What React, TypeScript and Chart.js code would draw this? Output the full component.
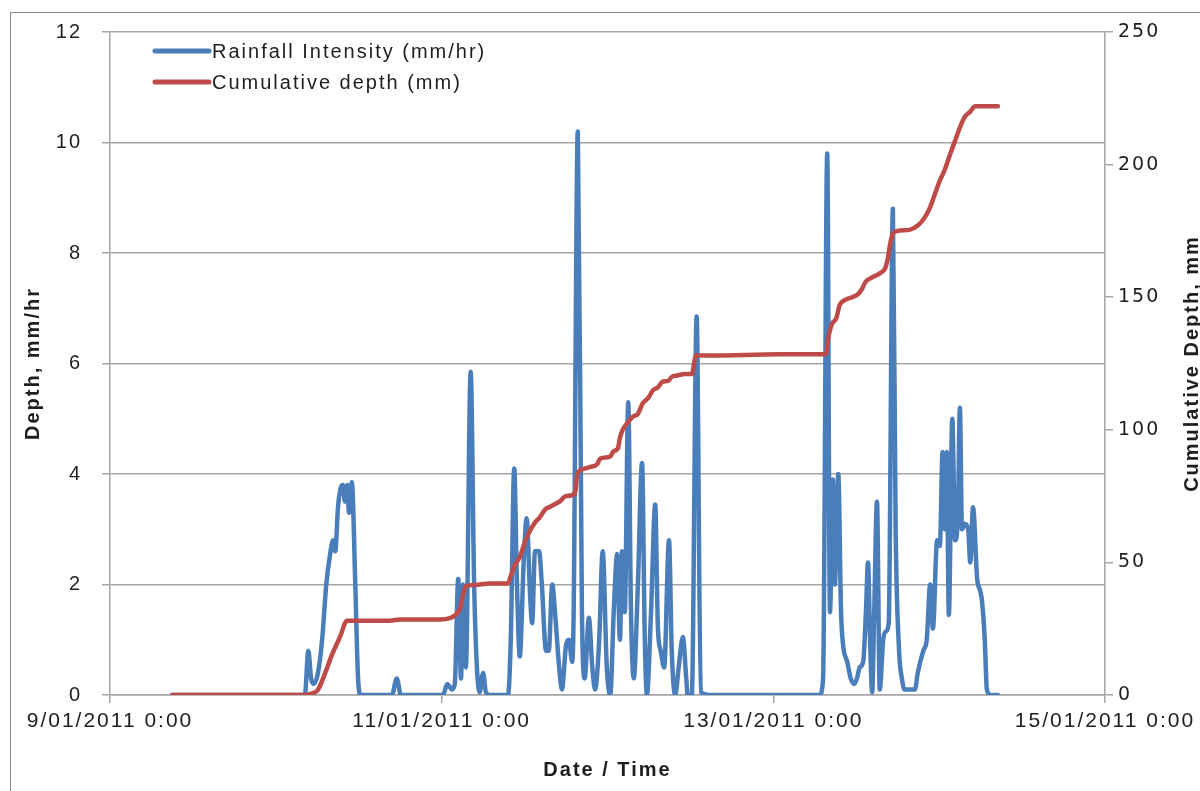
import React, { useEffect, useRef } from 'react';
import { Chart, registerables } from 'chart.js';

Chart.register(...registerables);

// Hours since 9/01/2011 0:00
const rainHours = [
  9.0, 28.2, 28.7, 29.1, 29.5, 30.1, 30.7, 31.3, 31.8, 32.3,
  32.6, 33.0, 33.4, 33.7, 34.0, 34.3, 34.6, 35.0, 35.5, 35.9,
  36.3, 40.8, 41.5, 42.1, 48.2, 48.8, 49.5, 49.9, 50.4, 50.8,
  51.1, 51.5, 52.2, 52.7, 53.1, 53.5, 54.0, 54.4, 55.0, 57.6,
  58.0, 58.5, 58.9, 59.3, 59.9, 60.3, 60.8, 61.1, 61.5, 62.1,
  62.5, 63.1, 63.5, 64.0, 64.4, 65.0, 65.4, 66.0, 66.4, 66.9,
  67.1, 67.7, 68.3, 68.7, 69.3, 69.8, 70.2, 70.8, 71.3, 71.9,
  72.4, 72.9, 73.4, 73.8, 74.1, 74.5, 75.0, 75.4, 75.8, 76.4,
  77.0, 77.4, 77.7, 78.3, 78.9, 79.3, 79.7, 80.2, 80.9, 81.3,
  81.8, 82.3, 82.9, 83.4, 83.6, 84.2, 84.9, 85.5, 87.1, 102.7,
  103.2, 103.8, 104.2, 104.6, 104.9, 105.4, 105.8, 106.1, 106.7, 107.2,
  107.7, 108.1, 108.5, 109.0, 109.4, 109.7, 110.0, 110.3, 110.6, 111.0,
  111.4, 111.9, 112.3, 112.7, 113.3, 113.7, 114.2, 114.6, 115.0, 116.5,
  116.9, 117.7, 118.2, 118.7, 119.1, 119.7, 120.1, 120.5, 120.8, 121.1,
  121.4, 121.9, 122.3, 122.7, 123.0, 123.3, 123.7, 124.2, 124.5, 124.9,
  125.5, 125.9, 126.2, 126.6, 126.9, 127.4, 128.5,
];

// Rainfall intensity, mm/hr
const rainValues = [
  0, 0, 0.8, 0.3, 0.2, 0.4, 1.0, 2.0, 2.5, 2.8,
  2.6, 3.4, 3.75, 3.8, 3.5, 3.8, 3.3, 3.85, 2.0, 0.3,
  0, 0, 0.3, 0, 0, 0.2, 0.1, 0.2, 2.1, 0.3,
  2.0, 0.5, 5.85, 2.0, 0.5, 0.05, 0.4, 0.05, 0, 0,
  1.0, 4.1, 2.0, 0.7, 2.5, 3.2, 1.8, 1.3, 2.6, 2.6,
  2.0, 0.8, 0.8, 2.0, 1.5, 0.5, 0.1, 0.9, 1.0, 0.6,
  1.5, 10.2, 1.5, 0.3, 1.4, 0.5, 0.1, 1.0, 2.6, 0.5,
  0, 1.5, 2.55, 1.0, 2.6, 1.5, 5.3, 1.5, 0.3, 2.0,
  4.2, 1.0, 0, 1.5, 3.45, 1.2, 0.8, 0.5, 2.8, 0.8,
  0, 0.5, 1.05, 0.3, 0, 0, 6.85, 0.05, 0, 0,
  0.3, 9.8, 1.5, 3.9, 2.0, 4.0, 1.5, 0.9, 0.6, 0.3,
  0.2, 0.3, 0.5, 0.6, 1.5, 2.4, 1.0, 0.05, 1.5, 3.5,
  0.1, 1.0, 1.15, 1.3, 8.8, 3.0, 0.8, 0.3, 0.1, 0.1,
  0.4, 0.8, 1.0, 2.0, 1.2, 2.8, 2.7, 4.4, 3.0, 4.4,
  1.45, 5.0, 2.8, 3.2, 5.2, 3.0, 3.1, 3.0, 2.4, 3.4,
  2.1, 1.9, 1.7, 1.0, 0.1, 0, 0,
];

// Hours since 9/01/2011 0:00
const cumHours = [
  9.0, 28.2, 29.2, 30.1, 31.1, 32.1, 33.3, 34.3, 34.7, 40.5,
  42.0, 47.8, 49.2, 49.9, 50.7, 51.1, 51.5, 52.8, 55.0, 57.6,
  58.0, 58.6, 59.3, 60.1, 60.8, 61.5, 62.2, 63.0, 63.7, 64.4,
  65.1, 66.0, 67.3, 67.6, 68.3, 69.5, 70.5, 70.9, 71.6, 72.4,
  72.9, 73.5, 73.8, 74.2, 75.0, 75.7, 76.4, 77.1, 77.9, 78.6,
  79.3, 79.9, 80.8, 81.3, 82.1, 83.2, 84.2, 84.8, 86.8, 97.0,
  103.6, 103.9, 104.5, 105.1, 105.6, 106.4, 107.4, 108.2, 108.8, 109.4,
  110.0, 110.7, 111.4, 112.2, 112.6, 112.9, 113.3, 114.0, 115.8, 116.9,
  117.9, 118.7, 119.4, 120.1, 120.8, 121.6, 122.3, 123.0, 123.7, 124.5,
  125.2, 128.5,
];

// Cumulative depth, mm
const cumValues = [
  0, 0, 0.5, 2, 8, 15, 22, 28, 28, 28,
  28.5, 28.5, 29, 30, 33, 38, 41, 41.5, 42, 42,
  45, 49, 52, 58, 62, 65, 67, 70, 71, 72,
  73, 75, 76, 83, 85, 86, 87, 89, 89.5, 90,
  92, 93, 97, 100, 103, 105, 106, 110, 112, 115,
  116, 118, 118.5, 120, 120.5, 121, 121, 128, 128, 128.5,
  128.5, 134, 140, 142, 147, 149, 150, 151, 153, 156,
  157, 158, 159, 161, 165, 170, 174, 175, 175.5, 177,
  180, 184, 189, 194, 198, 204, 209, 214, 218, 220,
  222, 222,
];

const xTickLabels = ['9/01/2011 0:00', '11/01/2011 0:00', '13/01/2011 0:00', '15/01/2011 0:00'];
const seriesLabels = ['Rainfall Intensity (mm/hr)', 'Cumulative depth (mm)'];
const axisTitles = { x: 'Date / Time', yLeft: 'Depth, mm/hr', yRight: 'Cumulative Depth, mm' };

const BLUE = '#4a7ebb';
const RED = '#be4b48';
const GRID = '#a6a6a6';
const TEXT = '#1e1e1e';
const FONT = '"Liberation Sans", Arial, sans-serif';

const overlayPlugin = {
  id: 'overlay',
  beforeInit(chart: any) {
    chart.ctx.letterSpacing = '2px';
  },
  beforeDraw(chart: any) {
    chart.ctx.letterSpacing = '2px';
  },
  afterDraw(chart: any) {
    const ctx = chart.ctx as CanvasRenderingContext2D;
    const area = chart.chartArea;
    ctx.save();
    (ctx as any).letterSpacing = '2px';
    chart.data.datasets.forEach((ds: any, i: number) => {
      const y = area.top + 19 + i * 31;
      ctx.strokeStyle = ds.borderColor;
      ctx.lineWidth = 5;
      ctx.lineCap = 'round';
      ctx.beginPath();
      ctx.moveTo(area.left + 45, y);
      ctx.lineTo(area.left + 99, y);
      ctx.stroke();
      ctx.fillStyle = TEXT;
      ctx.font = `20px ${FONT}`;
      ctx.textAlign = 'left';
      ctx.textBaseline = 'middle';
      ctx.fillText(ds.label, area.left + 102, y + 1);
    });
    // right axis title, reading bottom-to-top
    ctx.translate(1192, (area.top + area.bottom) / 2);
    ctx.rotate(-Math.PI / 2);
    ctx.font = `bold 20px ${FONT}`;
    ctx.fillStyle = TEXT;
    ctx.textAlign = 'center';
    ctx.textBaseline = 'middle';
    ctx.fillText(axisTitles.yRight, 0, 0);
    ctx.restore();
  },
};

export default function App() {
  const canvasRef = useRef<HTMLCanvasElement | null>(null);

  useEffect(() => {
    if (!canvasRef.current) return;
    const rainData = rainHours.map((h, i) => ({ x: h, y: rainValues[i] }));
    const cumData = cumHours.map((h, i) => ({ x: h, y: cumValues[i] }));

    const chart = new Chart(canvasRef.current, {
      type: 'line',
      data: {
        datasets: [
          {
            label: seriesLabels[0],
            data: rainData,
            yAxisID: 'y',
            borderColor: BLUE,
            backgroundColor: BLUE,
            borderWidth: 4.5,
            pointRadius: 0,
            cubicInterpolationMode: 'monotone',
            borderCapStyle: 'round',
            borderJoinStyle: 'round',
            order: 1,
          },
          {
            label: seriesLabels[1],
            data: cumData,
            yAxisID: 'y1',
            borderColor: RED,
            backgroundColor: RED,
            borderWidth: 4.5,
            pointRadius: 0,
            cubicInterpolationMode: 'monotone',
            borderCapStyle: 'round',
            borderJoinStyle: 'round',
            order: 0,
          },
        ],
      },
      options: {
        responsive: false,
        devicePixelRatio: 1,
        animation: false,
        layout: { padding: { top: 27, left: 0, right: 0, bottom: 0 } },
        plugins: {
          legend: { display: false },
          tooltip: { enabled: false },
        },
        scales: {
          x: {
            type: 'linear',
            min: 0,
            max: 144,
            afterFit: (s: any) => { s.height = 96; },
            ticks: {
              stepSize: 48,
              maxRotation: 0,
              autoSkip: false,
              padding: 6,
              color: TEXT,
              font: { family: FONT, size: 21 },
              callback: (v: any) => xTickLabels[Math.round(Number(v) / 48)] ?? '',
            },
            grid: { drawOnChartArea: false, drawTicks: true, tickLength: 8, color: GRID, lineWidth: 1.5 },
            border: { display: true, color: GRID, width: 1.5 },
            title: {
              display: true,
              text: axisTitles.x,
              color: TEXT,
              font: { family: FONT, size: 20, weight: 'bold' },
              padding: { top: 4, bottom: 9 },
            },
          },
          y: {
            type: 'linear',
            position: 'left',
            min: 0,
            max: 12,
            afterFit: (s: any) => { s.width = 110; },
            ticks: { stepSize: 2, padding: 20, color: TEXT, font: { family: FONT, size: 20 } },
            grid: { drawTicks: true, tickLength: 8, color: GRID, lineWidth: 1.5 },
            border: { display: true, color: GRID, width: 1.5 },
            title: {
              display: true,
              text: axisTitles.yLeft,
              color: TEXT,
              font: { family: FONT, size: 20, weight: 'bold' },
              padding: { top: 21, bottom: 0 },
            },
          },
          y1: {
            type: 'linear',
            position: 'right',
            min: 0,
            max: 250,
            afterFit: (s: any) => { s.width = 95; },
            ticks: { stepSize: 50, padding: 5, color: TEXT, font: { family: '"DejaVu Sans", Verdana, sans-serif', size: 19 } },
            grid: { drawOnChartArea: false, drawTicks: true, tickLength: 8, color: GRID, lineWidth: 1.5 },
            border: { display: true, color: GRID, width: 1.5 },
          },
        },
      } as any,
      plugins: [overlayPlugin as any],
    });
    return () => chart.destroy();
  }, []);

  return (
    <div style={{ position: 'fixed', left: 0, top: 0, width: 1200, height: 791, overflow: 'hidden', background: '#fff' }}>
      <div
        style={{
          position: 'absolute',
          left: 10,
          top: 12,
          width: 1300,
          height: 900,
          border: '1px solid #8c8c8c',
          boxSizing: 'border-box',
        }}
      />
      <canvas
        ref={canvasRef}
        width={1200}
        height={791}
        style={{ position: 'absolute', left: 0, top: 0, width: 1200, height: 791 }}
      />
    </div>
  );
}
